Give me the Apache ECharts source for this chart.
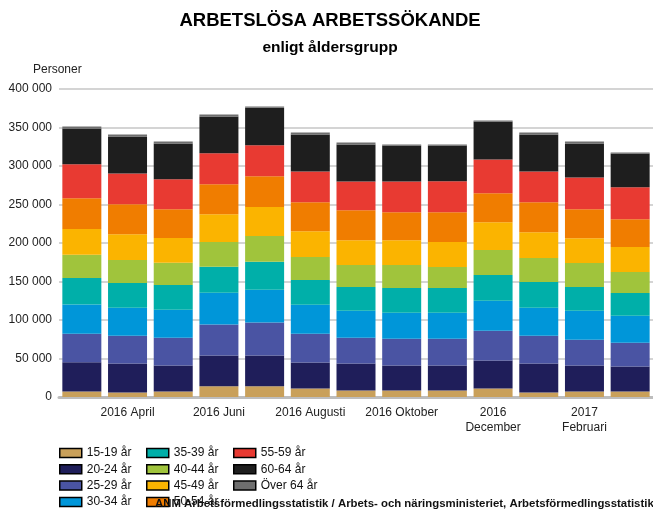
<!DOCTYPE html>
<html>
<head>
<meta charset="utf-8">
<script src="https://cdn.jsdelivr.net/npm/echarts@6/dist/echarts.min.js"></script>
<style>
  html, body { margin: 0; padding: 0; background: #fff; }
  #chart { width: 653px; height: 510px; }
</style>
</head>
<body>
<div id="chart"></div>
<script>
// månader mars 2016 - mars 2017
const months = ['2016 Mars', '2016 April', '2016 Maj', '2016 Juni', '2016 Juli', '2016 Augusti',
  '2016 September', '2016 Oktober', '2016 November', '2016 December', '2017 Januari', '2017 Februari', '2017 Mars'];
const monthLabels = ['2016 Mars', '2016 April', '2016 Maj', '2016 Juni', '2016 Juli', '2016 Augusti',
  '2016 September', '2016 Oktober', '2016 November', '2016\nDecember', '2017 Januari', '2017\nFebruari', '2017 Mars'];
const yTicks = [0, 50000, 100000, 150000, 200000, 250000, 300000, 350000, 400000];

const ageGroups = ['15-19 år', '20-24 år', '25-29 år', '30-34 år', '35-39 år', '40-44 år',
  '45-49 år', '50-54 år', '55-59 år', '60-64 år', 'Över 64 år'];

const age15_19 = [7300, 6000, 7300, 13800, 13800, 11200, 8600, 8600, 8600, 11200, 6000, 7300, 7300];
const age20_24 = [37900, 37500, 33600, 40100, 40100, 33600, 34900, 32300, 32300, 36200, 37500, 33600, 32300];
const age25_29 = [37100, 36200, 36200, 40100, 42700, 37500, 33600, 34900, 34900, 38800, 36200, 33600, 31000];
const age30_34 = [37900, 36200, 36200, 41400, 42700, 37500, 34900, 33600, 33600, 38800, 36200, 37500, 34900];
const age35_39 = [34500, 32300, 32300, 33600, 36200, 32300, 31000, 32300, 32300, 33600, 33600, 31000, 29700];
const age40_44 = [30200, 29700, 28900, 32300, 33600, 29700, 28400, 29700, 27200, 32300, 31000, 31000, 27200];
const age45_49 = [33200, 33600, 31900, 36200, 37500, 33600, 32300, 32300, 32300, 36200, 33600, 32300, 32300];
const age50_54 = [40100, 38800, 37500, 38800, 40100, 37500, 38800, 36200, 38800, 37500, 38800, 37500, 36200];
const age55_59 = [44000, 40100, 38800, 40100, 40100, 40100, 37500, 40100, 40100, 44000, 40100, 41400, 41400];
const age60_64 = [46500, 47800, 46500, 47800, 48700, 47800, 47800, 46500, 46500, 49100, 47800, 44000, 44000];
const ageOver64 = [2600, 2600, 2600, 2600, 1700, 2600, 2600, 1300, 1300, 1300, 2600, 2600, 1300];

const seriesData = [age15_19, age20_24, age25_29, age30_34, age35_39, age40_44,
  age45_49, age50_54, age55_59, age60_64, ageOver64];
const colors = ['#C9A05A', '#1F1E5A', '#4A54A3', '#0096D9', '#00AFA9', '#A0C43C',
  '#FBB400', '#F07D00', '#E83A32', '#1E1E1E', '#6E6E6E'];

const font = '"Liberation Sans", Arial, sans-serif';

function legendCol(left, names) {
  return {
    orient: 'vertical',
    left: left,
    top: 447,
    itemWidth: 22,
    itemHeight: 9,
    itemGap: 4.3,
    padding: 0,
    icon: 'rect',
    data: names,
    itemStyle: { borderColor: '#000', borderWidth: 1.5 },
    textStyle: { fontFamily: font, fontSize: 12, color: '#111' },
    selectedMode: false
  };
}

const chart = echarts.init(document.getElementById('chart'), null, { renderer: 'canvas' });
const option = {
  backgroundColor: '#fff',
  animation: false,
  color: colors,
  textStyle: { fontFamily: font },
  grid: { left: 59, right: 0, top: 89, bottom: 113 },
  legend: [
    legendCol(59, ageGroups.slice(0, 4)),
    legendCol(146, ageGroups.slice(4, 8)),
    legendCol(233, ageGroups.slice(8, 11))
  ],
  xAxis: {
    type: 'category',
    data: months,
    axisTick: { show: false },
    axisLine: { lineStyle: { color: '#BDBDBD', width: 3 } },
    axisLabel: {
      interval: function (i) { return i % 2 === 1; },
      formatter: function (v, i) { return monthLabels[i]; },
      fontFamily: font,
      fontSize: 12,
      color: '#222',
      margin: 8,
      lineHeight: 15
    }
  },
  yAxis: {
    type: 'value',
    min: yTicks[0],
    max: yTicks[yTicks.length - 1],
    interval: 50000,
    axisLine: { show: false },
    axisTick: { show: false },
    splitLine: { lineStyle: { color: '#C6C6C6', width: 1.5 } },
    axisLabel: {
      margin: 7,
      fontFamily: font,
      fontSize: 12,
      color: '#222',
      formatter: function (v) { return String(v).replace(/\B(?=(\d{3})+(?!\d))/g, ' '); }
    }
  },
  series: ageGroups.map(function (name, i) {
    return {
      name: name,
      type: 'bar',
      stack: 'total',
      barWidth: 39,
      data: seriesData[i]
    };
  }),
  graphic: [
    { type: 'text', left: 33, top: 64, style: { text: 'Personer', font: '12px ' + font, fill: '#222' } },
    { type: 'text', x: 330, y: 21, style: { text: 'ARBETSLÖSA ARBETSSÖKANDE', font: 'bold 18.5px ' + font, fill: '#000', textAlign: 'center', textVerticalAlign: 'middle' } },
    { type: 'text', x: 330, y: 48, style: { text: 'enligt åldersgrupp', font: 'bold 15.5px ' + font, fill: '#000', textAlign: 'center', textVerticalAlign: 'middle' } },
    { type: 'text', x: 155, y: 504, z: 100, style: { text: 'ANM Arbetsförmedlingsstatistik / Arbets- och näringsministeriet, Arbetsförmedlingsstatistik', font: 'bold 11.4px ' + font, fill: '#111', textVerticalAlign: 'middle' } }
  ]
};
chart.setOption(option);
</script>
</body>
</html>
